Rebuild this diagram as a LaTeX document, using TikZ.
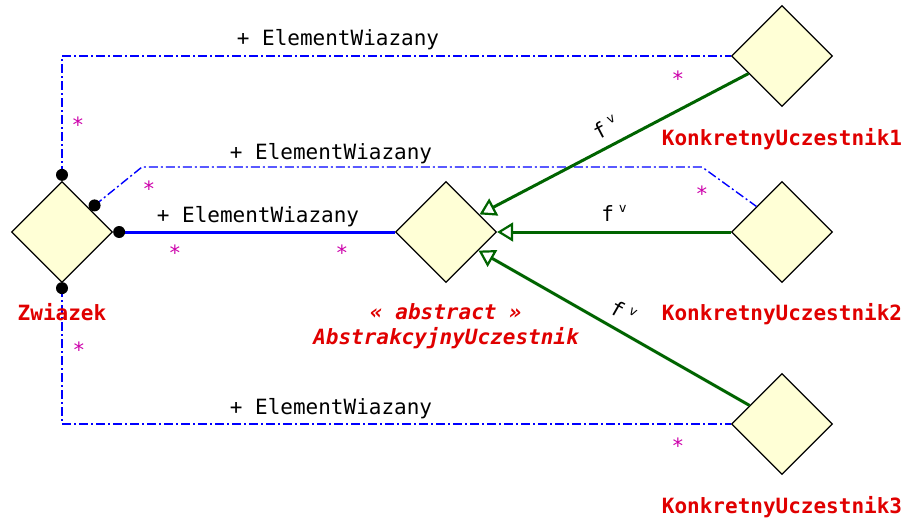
\documentclass[tikz,border=0pt]{standalone}
\usepackage{fontspec}
\setmonofont{DejaVu Sans Mono}
\usepackage{tikz}
\usetikzlibrary{shapes.geometric}
\usetikzlibrary{arrows.meta}
\usetikzlibrary{positioning}
\definecolor{klasafill}{RGB}{255,255,214}
\definecolor{nazwared}{RGB}{224,0,0}
\definecolor{krotnosc}{RGB}{204,0,170}
\definecolor{uogolnienie}{RGB}{0,100,0}
\newcommand{\rola}{+ ElementWiazany}
\newcommand{\fv}{f\hspace{5pt}\raisebox{9pt}{\fontsize{13}{13}\selectfont v}}
\tikzset{
  klasa/.style={draw, line width=1.3pt, fill=klasafill, shape=diamond,
    minimum width=101pt, minimum height=101pt, inner sep=0pt},
  nazwa/.style={text=nazwared, anchor=base,
    font=\ttfamily\bfseries\fontsize{21}{25}\selectfont},
  nazwaabs/.style={nazwa, font=\ttfamily\bfseries\itshape\fontsize{21}{25}\selectfont},
  gwiazdka/.style={text=krotnosc, inner sep=0pt, anchor=base, yshift=-12pt},
  asocjacja/.style={blue, line width=1.4pt, dash pattern=on 9pt off 3pt on 2pt off 3pt},
  kompozycja/.style={blue, line width=3pt},
  dziedziczy/.style={uogolnienie, line width=3pt,
    -{Triangle[open, length=16pt, width=19pt, line width=2.2pt]}},
  etykieta/.style={midway, sloped, above=9pt, inner sep=0pt, text=black}
}

\begin{document}
\begin{tikzpicture}[x=1pt, y=-1pt, every node/.style={font=\ttfamily\fontsize{21}{25}\selectfont}]
\useasboundingbox (0,0) rectangle (907,519);

  % Klasy
  \node[klasa] (zwiazek) at (62,232) {};
  \node[klasa] (abstrakcyjny) at (446,232) {};
  \node[klasa] (konkretny1) at (782,56) {};
  \node[klasa] (konkretny2) at (782,232) {};
  \node[klasa] (konkretny3) at (782,424) {};

  % Punkty zaczepienia przy Zwiazek
  \coordinate (zGora) at ([yshift=6pt]zwiazek.north);
  \coordinate (zSkos) at ([xshift=7pt,yshift=1pt]zwiazek.north east);
  \coordinate (zPrawo) at ([xshift=6pt]zwiazek.east);
  \coordinate (zDol) at ([yshift=-5pt]zwiazek.south);
  \coordinate (zalom1) at (142,167);
  \coordinate (zalom2) at (702,167);

  % Asocjacje
  \draw[asocjacja] (zGora) |- (konkretny1.west);
  \draw[asocjacja] (zSkos) -- (zalom1) -- (zalom2) -- (konkretny2.north west);
  \draw[kompozycja] (zPrawo) -- (abstrakcyjny.west);
  \draw[asocjacja] (zDol) |- (konkretny3.west);
  \foreach \k in {zGora,zSkos,zPrawo,zDol}
    \fill (\k) circle (6pt);

  % Uogolnienia
  \draw[dziedziczy] (konkretny1) -- (abstrakcyjny) node[etykieta] (f1) {\fv};
  \draw[dziedziczy] (konkretny2) -- (abstrakcyjny) node[etykieta] (f2) {\fv};
  \draw[dziedziczy] (konkretny3) -- (abstrakcyjny) node[etykieta] (f3) {\fv};

  % Role
  \node[anchor=base] (rola1) at (338,46) {\rola};
  \node[anchor=base] (rola2) at (331,159) {\rola};
  \node[anchor=base] (rola3) at (258,222) {\rola};
  \node[anchor=base] (rola4) at (331,414) {\rola};

  % Krotnosci
  \node[gwiazdka] (k1a) at (78,120) {*};
  \node[gwiazdka] (k1b) at (678,74) {*};
  \node[gwiazdka] (k2a) at (149,184) {*};
  \node[gwiazdka] (k2b) at (702,189) {*};
  \node[gwiazdka] (k3a) at (175,248) {*};
  \node[gwiazdka] (k3b) at (342,248) {*};
  \node[gwiazdka] (k4a) at (79,345) {*};
  \node[gwiazdka] (k4b) at (678,441) {*};

  % Nazwy klas
  \node[nazwa] (zwiazekLbl) at (62,320) {Zwiazek};
  \node[nazwaabs] (stereotyp) at (446,319) {« abstract »};
  \node[nazwaabs] (abstrakcyjnyLbl) at (446,344) {AbstrakcyjnyUczestnik};
  \node[nazwa] (konkretny1Lbl) at (782,145) {KonkretnyUczestnik1};
  \node[nazwa] (konkretny2Lbl) at (782,320) {KonkretnyUczestnik2};
  \node[nazwa] (konkretny3Lbl) at (782,513) {KonkretnyUczestnik3};

\end{tikzpicture}
\end{document}
